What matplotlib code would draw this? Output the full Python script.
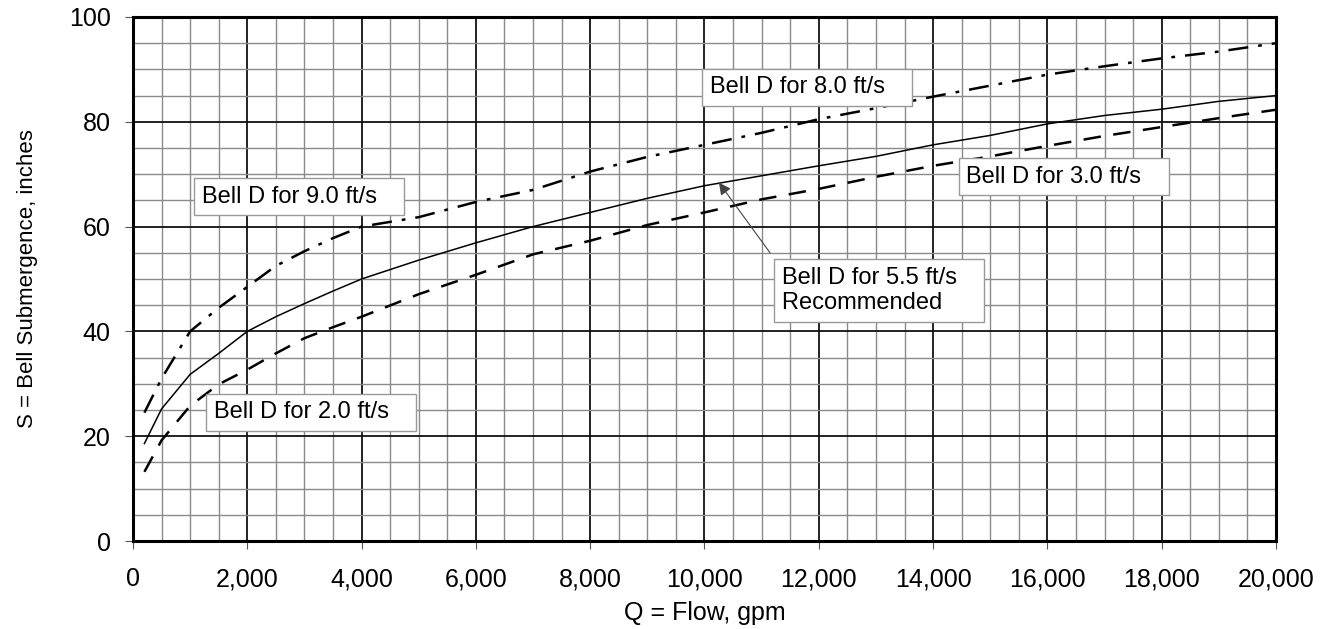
import numpy as np
import matplotlib
matplotlib.use("Agg")
import matplotlib.pyplot as plt
from matplotlib.ticker import MultipleLocator, FuncFormatter

plt.rcParams['font.family'] = ['Liberation Sans', 'DejaVu Sans']

# flow, gpm
flow = [200, 500, 1000, 1500, 2000, 2500, 3000, 3500, 4000, 5000, 6000, 7000,
        8000, 9000, 10000, 11000, 12000, 13000, 14000, 15000, 16000, 17000,
        18000, 19000, 20000]

# bell submergence, inches
s_high = [24.5, 31.0, 40.0, 44.5, 48.5, 52.5, 55.3, 57.8, 60.0, 61.8, 64.7, 67.0,
          70.5, 73.3, 75.6, 77.9, 80.5, 82.6, 84.8, 86.9, 89.0, 90.6,
          92.1, 93.4, 95.0]
s_rec = [18.6, 25.2, 31.8, 35.8, 40.0, 42.8, 45.3, 47.7, 50.0, 53.6, 56.9, 60.0,
         62.7, 65.4, 67.8, 69.7, 71.6, 73.4, 75.6, 77.4, 79.6, 81.2,
         82.4, 83.9, 85.0]
s_low = [13.2, 19.2, 25.8, 29.9, 32.7, 35.8, 38.7, 40.8, 42.8, 47.1, 50.8, 54.7,
         57.3, 60.3, 62.7, 65.2, 67.2, 69.5, 71.6, 73.4, 75.4, 77.3,
         79.0, 80.7, 82.3]

labels = ["Bell D for 9.0 ft/s", "Bell D for 2.0 ft/s", "Bell D for 8.0 ft/s",
          "Bell D for 3.0 ft/s", "Bell D for 5.5 ft/s\nRecommended"]
label_q = [1200, 1410, 10090, 14580, 11350]
label_s = [65.7, 24.6, 86.6, 69.5, 47.8]

fig = plt.figure(figsize=(13.35, 6.29), dpi=100)
ax = fig.add_axes([0.0996, 0.1399, 0.8562, 0.8331])

ax.plot(flow, s_high, color='black', lw=1.8, linestyle=(0, (8, 4, 1.5, 4)))
ax.plot(flow, s_rec, color='black', lw=1.1)
ax.plot(flow, s_low, color='black', lw=1.8, linestyle=(0, (7, 5)))

ax.set_xlim(0, 20000)
ax.set_ylim(0, 100)
ax.xaxis.set_major_locator(MultipleLocator(2000))
ax.xaxis.set_minor_locator(MultipleLocator(500))
ax.yaxis.set_major_locator(MultipleLocator(20))
ax.yaxis.set_minor_locator(MultipleLocator(5))
ax.xaxis.set_major_formatter(FuncFormatter(lambda v, p: '{:,}'.format(int(v))))

ax.grid(which='minor', color='#8a8a8a', lw=1.0)
ax.grid(which='major', color='#111111', lw=1.3)
ax.set_axisbelow(True)

ax.tick_params(which='major', direction='out', length=6, width=0.8,
               labelsize=18, color='#555555')
ax.tick_params(axis='x', pad=13)
ax.tick_params(axis='y', pad=10)
ax.tick_params(which='minor', length=0)
for sp in ax.spines.values():
    sp.set_linewidth(2.2)

ax.set_xlabel("Q = Flow, gpm", fontsize=18)
ax.xaxis.set_label_coords(0.5, -0.137)
ax.xaxis.label.set_verticalalignment('center')
ax.set_ylabel("S = Bell Submergence, inches", fontsize=16)
ax.yaxis.set_label_coords(-0.092, 0.5)
ax.yaxis.label.set_verticalalignment('center')

# text boxes have extra room on the right, like the original
for txt, q, s in zip(labels, label_q, label_s):
    padded = "\n".join(line + "   " for line in txt.split("\n"))
    ax.text(q, s, padded, fontsize=17, ha='left', va='center', zorder=5,
            bbox=dict(boxstyle='square,pad=0.32', fc='white', ec='#999999', lw=1.0))

# arrow pointing to the recommended curve
ax.annotate('', xy=(10253, 68.4), xytext=(11147, 55.0), zorder=6,
            arrowprops=dict(arrowstyle='-|>', color='#444444', lw=0.8,
                            mutation_scale=18, shrinkA=0, shrinkB=0))

fig.savefig("out.png", dpi=100)
